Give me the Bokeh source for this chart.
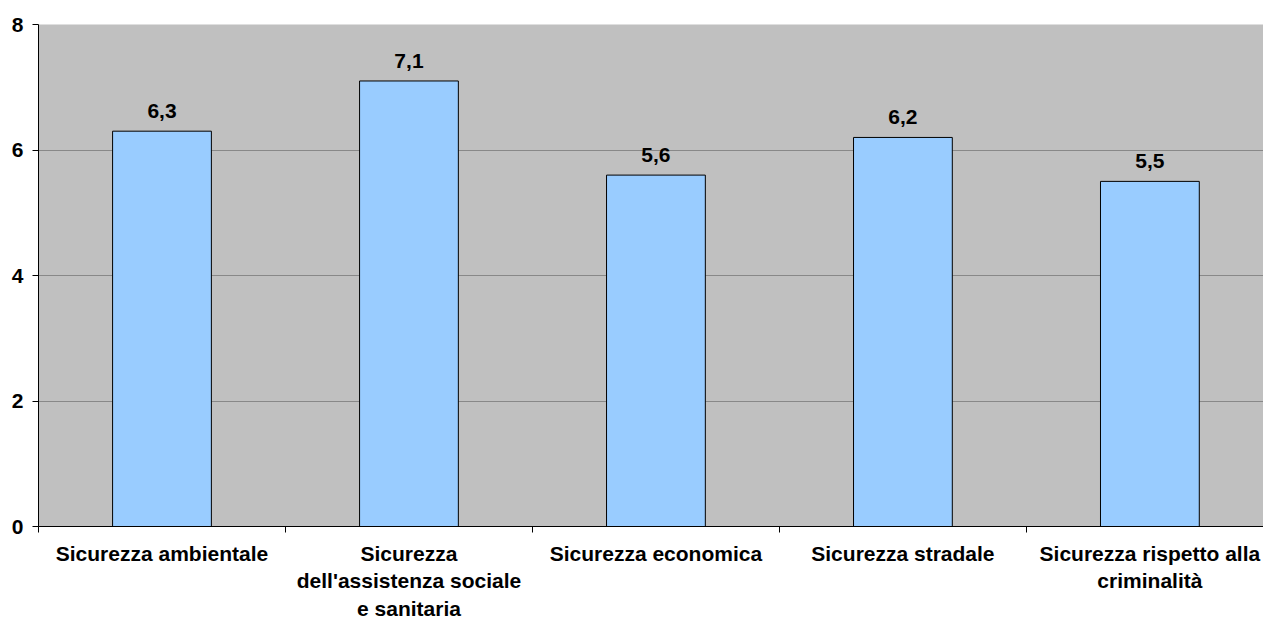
from bokeh.plotting import figure
from bokeh.models import Range1d, FixedTicker, ColumnDataSource
from bokeh.core.properties import value
from bokeh.embed import file_html
from bokeh.resources import INLINE

categories = [
    "Sicurezza ambientale",
    "Sicurezza\ndell'assistenza sociale\ne sanitaria",
    "Sicurezza economica",
    "Sicurezza stradale",
    "Sicurezza rispetto alla\ncriminalità",
]
values = [6.3, 7.1, 5.6, 6.2, 5.5]
y_ticks = [0, 2, 4, 6, 8]

FONT = "Liberation Sans"

xs = [i + 0.5 for i in range(len(categories))]
labels = [f"{v:.1f}".replace(".", ",") for v in values]
src = ColumnDataSource(dict(x=xs, top=values, label=labels))

p = figure(width=1263, height=623, output_backend="svg", toolbar_location=None,
           x_range=Range1d(0, 4.96), y_range=Range1d(0, 8),
           min_border_left=38, min_border_right=0, min_border_top=24, min_border_bottom=97)
p.margin = (0, -8, -20, 0)
p.background_fill_color = "#C0C0C0"
p.border_fill_color = "white"
p.outline_line_color = None

p.vbar(x="x", top="top", width=0.4, bottom=0, source=src,
       fill_color="#99CCFF", line_color="black", line_width=1)

p.text(x="x", y="top", text="label", source=src, text_align="center",
       text_baseline="alphabetic", y_offset=-20,
       text_font=value(FONT), text_font_style="bold", text_font_size="21px",
       text_color="black")

# x axis
p.xaxis.ticker = FixedTicker(ticks=xs, minor_ticks=list(range(len(categories) + 1)))
p.xaxis.major_label_overrides = {x: c for x, c in zip(xs, categories)}
p.xaxis.major_tick_out = 0
p.xaxis.major_tick_in = 0
p.xaxis.minor_tick_out = 6
p.xaxis.minor_tick_in = 0
p.xaxis.minor_tick_line_color = "black"
p.xaxis.axis_line_color = "black"
p.xaxis.major_label_text_font = FONT
p.xaxis.major_label_text_font_style = "bold"
p.xaxis.major_label_text_font_size = "21px"
p.xaxis.major_label_text_color = "black"
p.xaxis.major_label_text_line_height = 1.2
p.xaxis.major_label_standoff = 9

# y axis
p.yaxis.ticker = FixedTicker(ticks=y_ticks, minor_ticks=[])
p.yaxis.major_tick_out = 6
p.yaxis.major_tick_in = 0
p.yaxis.major_tick_line_color = "black"
p.yaxis.axis_line_color = "black"
p.yaxis.major_label_text_font = FONT
p.yaxis.major_label_text_font_style = "bold"
p.yaxis.major_label_text_font_size = "21px"
p.yaxis.major_label_text_color = "black"
p.yaxis.major_label_standoff = 9

p.xgrid.grid_line_color = None
p.ygrid.ticker = FixedTicker(ticks=y_ticks)
p.ygrid.grid_line_color = "#888888"
p.ygrid.grid_line_width = 1

open("out.html", "w").write(file_html(p, INLINE))
